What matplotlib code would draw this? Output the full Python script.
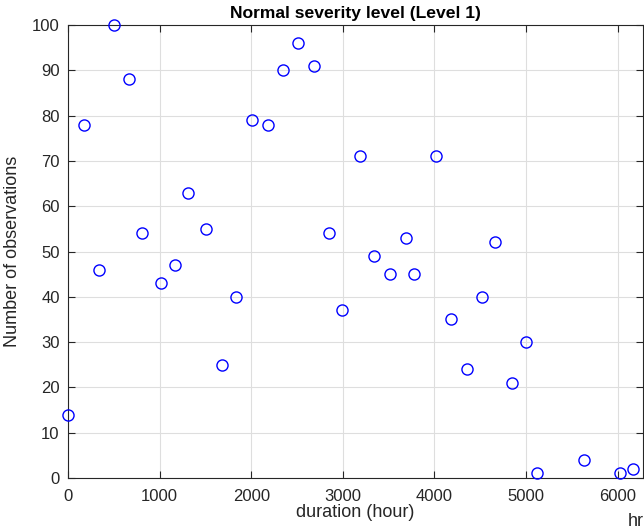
import numpy as np
import matplotlib
matplotlib.use("Agg")
import matplotlib.pyplot as plt

plt.rcParams['font.family'] = ['Liberation Sans', 'DejaVu Sans']

# data
duration = [0, 170, 335, 505, 671, 805, 1010, 1171, 1314, 1507, 1677, 1833,
            2012, 2182, 2343, 2513, 2683, 2848, 2991, 3184, 3345, 3519, 3684,
            3778, 4020, 4181, 4350, 4520, 4659, 4848, 5003, 5117, 5630, 6020, 6165]
observations = [14, 78, 46, 100, 88, 54, 43, 47, 63, 55, 25, 40,
                79, 78, 90, 96, 91, 54, 37, 71, 49, 45, 53,
                45, 71, 35, 24, 40, 52, 21, 30, 1, 4, 1, 2]
xticks = [0, 1000, 2000, 3000, 4000, 5000, 6000]
yticks = list(range(0, 101, 10))

dark = (0.15, 0.15, 0.15)

fig = plt.figure(figsize=(6.44, 5.31), dpi=100)
ax = fig.add_axes([68/644, 1 - 478/531, 576/644 - 0.001, 453/531])

ax.plot(duration, observations, 'o', mfc='none', mec=(0, 0, 1), mew=1.0,
        ms=8, clip_on=False, zorder=3)

ax.set_xlim(0, 6280)
ax.set_ylim(0, 100)
ax.set_xticks(xticks)
ax.set_yticks(yticks)
ax.grid(True, color=(0.87, 0.87, 0.87), lw=0.8)
ax.set_axisbelow(True)
ax.tick_params(direction='in', top=True, right=True, colors=dark,
               labelsize=12, length=5, width=0.8)
ax.tick_params(axis='x', pad=8)
ax.tick_params(axis='y', pad=6)
for s in ax.spines.values():
    s.set_color(dark)
    s.set_linewidth(0.8)

ax.set_title('Normal severity level (Level 1)', fontsize=12.6, fontweight='bold',
             pad=5)
ax.set_xlabel('duration (hour)', fontsize=13, color=dark, labelpad=0)
ax.set_ylabel('Number of observations', fontsize=13, color=dark, labelpad=8)
fig.text(628/644, 1 - 522/531, 'hr', fontsize=13, color=dark,
         va='center', ha='left')

fig.savefig('out.png', dpi=100)
